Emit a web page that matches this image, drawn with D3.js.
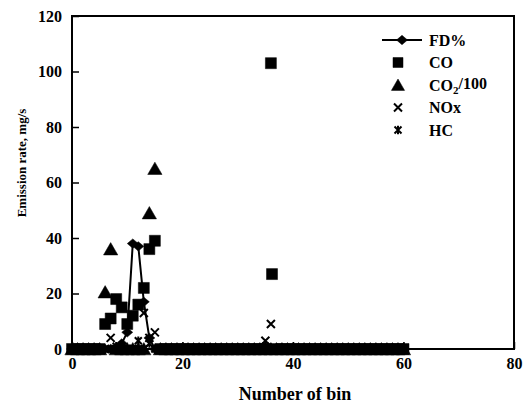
<!DOCTYPE html>
<html>
<head>
<meta charset="utf-8">
<script src="https://cdn.jsdelivr.net/npm/d3@7"></script>
<style>
  body { margin: 0; background: #fff; }
  text { font-family: "Liberation Serif", "Times New Roman", serif; fill: #000; }
</style>
</head>
<body>
<svg id="chart" width="525" height="410"></svg>
<script>
// bins 0..60 (x axis: Number of bin)
var bins = d3.range(0, 61);

// FD% (line + diamonds)
var fdValues = [0,0,0,0,0,0,0,0,0,2, 6,38,37,17,4,0,0,0,0,0,
                0,0,0,0,0,0,0,0,0,0, 0,0,0,0,0,0,0,0,0,0,
                0,0,0,0,0,0,0,0,0,0, 0,0,0,0,0,0,0,0,0,0, 0];
// CO (squares)
var coValues = [0,0,0,0,0,0,9,11,18,15, 9,12,16,22,36,39,0,0,0,0,
                0,0,0,0,0,0,0,0,0,0, 0,0,0,0,0,0,103,0,0,0,
                0,0,0,0,0,0,0,0,0,0, 0,0,0,0,0,0,0,0,0,0, 0];
// second CO reading in bin 36
var coExtraBins = [36.2];
var coExtraValues = [27];
// CO2/100 (triangles)
var co2Values = [0,0,0,0,0,0,20.5,36,0,0, 0,0,0,0,49,65,0,0,0,0,
                 0,0,0,0,0,0,0,0,0,0, 0,0,0,0,0,0,0,0,0,0,
                 0,0,0,0,0,0,0,0,0,0, 0,0,0,0,0,0,0,0,0,0, 0];
// NOx (crosses)
var noxValues = [0,0,0,0,0,0,0,4,0,0, 0,0,0,13,4,6,0,0,0,0,
                 0,0,0,0,0,0,0,0,0,0, 0,0,0,0,0,3,9,0,0,0,
                 0,0,0,0,0,0,0,0,0,0, 0,0,0,0,0,0,0,0,0,0, 0];
// HC (asterisks)
var hcValues = [0,0,0,0,0,0,0,0,1,0, 0,0,3,0,2,0,0,0,0,0,
                0,0,0,0,0,0,0,0,0,0, 0,0,0,0,0,1,0,0,0,0,
                0,0,0,0,0,0,0,0,0,0, 0,0,0,0,0,0,0,0,0,0, 0];

var xTicks = [0, 20, 40, 60, 80];
var yTicks = [0, 20, 40, 60, 80, 100, 120];
var legendLabels = ["FD%", "CO", "CO2/100", "NOx", "HC"];

var svg = d3.select("#chart"),
    margin = {left: 72, top: 16, right: 11, bottom: 61},
    width = 525 - margin.left - margin.right,
    height = 410 - margin.top - margin.bottom;

var x = d3.scaleLinear().domain([0, 80]).range([0, width]),
    y = d3.scaleLinear().domain([0, 120]).range([height, 0]);

var g = svg.append("g")
  .attr("transform", "translate(" + margin.left + "," + margin.top + ")");

// marker shapes
function diamond(s) { return "M0," + (-s * 0.85) + "L" + s + ",0L0," + (s * 0.85) + "L" + (-s) + ",0Z"; }
function square(s) { return "M" + (-s) + "," + (-s) + "h" + (2 * s) + "v" + (2 * s) + "h" + (-2 * s) + "Z"; }
function triangle(s) { return "M0," + (-s) + "L" + (s * 1.1) + "," + (s * 0.9) + "L" + (-s * 1.1) + "," + (s * 0.9) + "Z"; }
function cross(s) { return "M" + (-s) + "," + (-s) + "L" + s + "," + s + "M" + (-s) + "," + s + "L" + s + "," + (-s); }
function asterisk(s) { return cross(s) + "M0," + (-s * 1.2) + "V" + (s * 1.2); }

// axes (inward ticks)
g.append("g")
  .attr("class", "axis axis--x")
  .attr("transform", "translate(0," + height + ")")
  .call(d3.axisBottom(x).tickValues(xTicks).tickSize(-7).tickPadding(9))
  .call(function(a) {
    a.select(".domain").remove();
    a.selectAll("line").attr("stroke", "#000").attr("stroke-width", 1.5);
    a.selectAll("text").style("font-size", "16px").style("font-weight", "bold");
  });

g.append("g")
  .attr("class", "axis axis--y")
  .call(d3.axisLeft(y).tickValues(yTicks).tickSize(-7).tickPadding(10))
  .call(function(a) {
    a.select(".domain").remove();
    a.selectAll("line").attr("stroke", "#000").attr("stroke-width", 1.5);
    a.selectAll("text").style("font-size", "16px").style("font-weight", "bold");
  });

// frame
g.append("rect")
  .attr("width", width)
  .attr("height", height)
  .attr("fill", "none")
  .attr("stroke", "#000")
  .attr("stroke-width", 2);

// axis titles
g.append("text")
  .attr("x", width / 2 + 2)
  .attr("y", height + 51)
  .attr("text-anchor", "middle")
  .style("font-size", "18px")
  .style("font-weight", "bold")
  .text("Number of bin");

svg.append("text")
  .attr("transform", "translate(26,163) rotate(-90)")
  .attr("text-anchor", "middle")
  .style("font-size", "13px")
  .style("font-weight", "bold")
  .text("Emission rate, mg/s");

function pts(values) {
  return bins.map(function(b, i) { return {bin: b, v: values[i]}; });
}

// FD% line
g.append("path")
  .datum(pts(fdValues))
  .attr("fill", "none")
  .attr("stroke", "#000")
  .attr("stroke-width", 2)
  .attr("d", d3.line().x(function(d) { return x(d.bin); }).y(function(d) { return y(d.v); }));

function drawMarks(data, shape, filled) {
  g.append("g").selectAll("path")
    .data(data)
    .enter().append("path")
      .attr("transform", function(d) { return "translate(" + x(d.bin) + "," + y(d.v) + ")"; })
      .attr("d", shape)
      .attr("fill", filled ? "#000" : "none")
      .attr("stroke", "#000")
      .attr("stroke-width", filled ? 0.5 : 2);
}

var coPts = pts(coValues).concat(coExtraBins.map(function(b, i) { return {bin: b, v: coExtraValues[i]}; }));

drawMarks(pts(co2Values), triangle(6.5), true);
drawMarks(coPts, square(5.5), true);
drawMarks(pts(fdValues), diamond(5.5), true);
drawMarks(pts(noxValues), cross(4), false);
drawMarks(pts(hcValues), asterisk(3.5), false);

// legend
var legend = svg.append("g").attr("transform", "translate(398,40)");
var legendShapes = [diamond(5.5), square(5), triangle(6), cross(4), asterisk(3.5)];
legendLabels.forEach(function(label, i) {
  var row = legend.append("g").attr("transform", "translate(0," + (i * 22.5) + ")");
  if (i === 0) {
    row.append("line").attr("x1", -16).attr("x2", 24)
      .attr("stroke", "#000").attr("stroke-width", 2);
  }
  row.append("path")
    .attr("transform", "translate(" + (i === 0 ? 4 : 0) + ",0)")
    .attr("d", legendShapes[i])
    .attr("fill", i < 3 ? "#000" : "none")
    .attr("stroke", "#000")
    .attr("stroke-width", i < 3 ? 0.5 : 2);
  var t = row.append("text")
    .attr("x", 31)
    .attr("dy", "0.35em")
    .style("font-size", "16px")
    .style("font-weight", "bold");
  if (label === "CO2/100") {
    t.append("tspan").text("CO");
    t.append("tspan").attr("dy", "0.3em").style("font-size", "11px").text("2");
    t.append("tspan").attr("dy", "-0.3em").text("/100");
  } else {
    t.text(label);
  }
});
</script>
</body>
</html>
